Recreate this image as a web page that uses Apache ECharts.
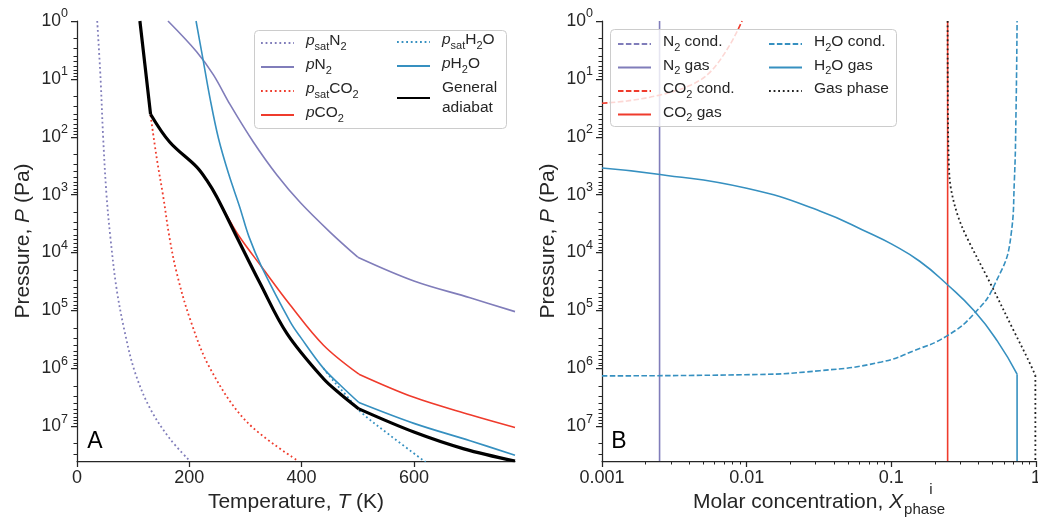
<!DOCTYPE html>
<html><head><meta charset="utf-8">
<script src="https://cdn.jsdelivr.net/npm/echarts@6/dist/echarts.min.js"></script>
<style>html,body{margin:0;padding:0;background:#fff}#c{width:1038px;height:525px}</style>
</head><body><div id="c"></div>
<script>
// ---------- Panel A data: temperature (K) and log10 pressure (Pa) ----------
const psatN2T    = [36, 42, 46.5, 52.5, 59.6, 70.4, 85, 103, 130, 165, 201];
const psatN2LogP = [0, 1, 2, 3, 3.75, 4.62, 5.37, 6.06, 6.69, 7.21, 7.6];
const pN2T       = [162, 213, 243, 273, 314, 356, 398, 451, 500, 600, 700, 780];
const pN2LogP    = [0, 0.53, 0.93, 1.45, 2.09, 2.66, 3.14, 3.65, 4.08, 4.49, 4.78, 5.02];
const psatCO2T    = [131, 142, 154, 164, 177, 201, 237, 302, 394];
const psatCO2LogP = [1.63, 2.37, 3.06, 3.70, 4.33, 5.14, 6.0, 6.92, 7.6];
const pCO2T      = [131, 165, 213, 231, 249, 268, 287.5, 329, 380, 439, 502, 600, 700, 780];
const pCO2LogP   = [1.61, 2.09, 2.52, 2.75, 3.04, 3.38, 3.70, 4.25, 4.91, 5.60, 6.10, 6.50, 6.80, 7.02];
const psatH2OT    = [439, 457, 480, 505, 558, 621];
const psatH2OLogP = [6.0, 6.22, 6.47, 6.75, 7.16, 7.62];
const pH2OT      = [212, 224, 237, 252, 270, 290, 306, 329, 380, 398, 439, 470, 502, 600, 700, 780];
const pH2OLogP   = [0, 0.64, 1.34, 2.03, 2.64, 3.22, 3.72, 4.25, 5.20, 5.46, 6.0, 6.30, 6.59, 6.95, 7.25, 7.50];
const adiabatT    = [112, 121, 131, 165, 213, 231, 249, 283, 326, 374, 439, 470, 502, 600, 689, 780];
const adiabatLogP = [0, 0.76, 1.61, 2.09, 2.52, 2.75, 3.04, 3.70, 4.53, 5.40, 6.18, 6.45, 6.70, 7.10, 7.39, 7.60];

// ---------- Panel B data: molar concentration and log10 pressure (Pa) ----------
const n2CondX = [];
const n2CondLogP = [];
const n2GasX = [0.0025, 0.0025];
const n2GasLogP = [0, 7.6];
const co2CondX = [0.001, 0.0015, 0.0025, 0.004, 0.0055, 0.0075, 0.0093];
const co2CondLogP = [1.42, 1.38, 1.28, 1.12, 0.9, 0.45, 0];
const co2GasX = [0.245, 0.245];
const co2GasLogP = [0, 7.6];
const h2oCondX = [0.001, 0.0097, 0.032, 0.0853, 0.145, 0.2456, 0.375, 0.516, 0.672, 0.708, 0.727, 0.74];
const h2oCondLogP = [6.13, 6.11, 6.04, 5.89, 5.69, 5.43, 5.05, 4.56, 3.70, 2.78, 1.62, 0];
const h2oGasX = [0.001, 0.00252, 0.01, 0.032, 0.0728, 0.1, 0.157, 0.2456, 0.375, 0.541, 0.74, 0.74];
const h2oGasLogP = [2.54, 2.65, 2.89, 3.28, 3.68, 3.85, 4.15, 4.56, 5.01, 5.53, 6.10, 7.6];
const gasPhaseX = [0.245, 0.246, 0.25, 0.258, 0.287, 0.33, 0.49, 0.708, 0.875, 0.99, 0.99];
const gasPhaseLogP = [0, 1.5, 2.5, 2.89, 3.35, 3.72, 4.56, 5.37, 5.83, 6.12, 7.6];

// ---------- ticks ----------
const tempTicks = [0, 200, 400, 600];
const molarTicks = [0.001, 0.01, 0.1, 1];
const pressureTicks = [1, 10, 100, 1000, 1e4, 1e5, 1e6, 1e7];
const P_MAX = 3.98e7;

const FONT = 'Liberation Sans, Arial, Helvetica, sans-serif';
const INK = '#262626';
const PURPLE = '#807dba', RED = '#ef3b2c', BLUE = '#3690c0', BLACK = '#000000';

function minorLog(lo, hi) {
  const out = [];
  for (let d = lo; d < hi * 0.999; d *= 10) for (let k = 2; k <= 9; k++) out.push(k * d);
  return out;
}
const pressureMinor = minorLog(1, 1e8).filter(v => v < P_MAX);
const molarMinor = minorLog(0.001, 1);

function pts(xs, ls, a, b) {
  const out = [];
  for (let i = (a || 0); i < (b === undefined ? xs.length : b); i++) out.push([xs[i], Math.pow(10, ls[i])]);
  return out;
}
// one drawn piece of a curve: indices a..b-1 of the arrays (pieces meet at shared kink points)
function line(name, xs, ls, color, width, type, xi, yi, z, a, b, smooth) {
  return {
    name, type: 'line', xAxisIndex: xi, yAxisIndex: yi, data: pts(xs, ls, a, b),
    symbol: 'none', showSymbol: false, smooth: smooth || false, z: z || 2, clip: true,
    lineStyle: { color, width, type: type || 'solid', cap: 'butt' },
    itemStyle: { color, opacity: 0 }, emphasis: { disabled: true }
  };
}
const DOT = [1.8, 2.8], DASH = [5.5, 2.4];
const SM = 0.35, SM2 = 0.5;

const supLabel = v => '{b|10}{s|' + Math.round(Math.log10(v)) + '}';
const tickRich = {
  b: { fontSize: 17.5, lineHeight: 18, fontFamily: FONT, color: INK, verticalAlign: 'bottom' },
  s: { fontSize: 12.5, lineHeight: 12, fontFamily: FONT, color: INK, padding: [0, 0, 14, 0] }
};

function majorAxis(kind, grid, type, min, max, ticks, fmt, extra) {
  const isY = kind === 'y';
  return Object.assign({
    gridIndex: grid, type, min, max, position: isY ? 'left' : 'bottom',
    logBase: 10,
    axisLine: { show: true, lineStyle: { color: INK, width: 1.25 } },
    axisTick: { show: true, inside: false, length: 6, customValues: ticks, lineStyle: { color: INK, width: 1.25 } },
    axisLabel: { show: true, customValues: ticks, formatter: fmt, margin: isY ? 9 : 8, color: INK,
      fontSize: 18, fontFamily: FONT, rich: tickRich },
    splitLine: { show: false }, minorTick: { show: false }, minorSplitLine: { show: false }
  }, extra || {});
}
function minorAxis(kind, grid, min, max, ticks, extra) {
  const isY = kind === 'y';
  return Object.assign({
    gridIndex: grid, type: 'log', logBase: 10, min, max, position: isY ? 'left' : 'bottom',
    axisLine: { show: false },
    axisTick: { show: true, inside: false, length: 3.5, customValues: ticks, lineStyle: { color: INK, width: 1 } },
    axisLabel: { show: false }, splitLine: { show: false }
  }, extra || {});
}
const nameRich = {
  n: { fontSize: 21, lineHeight: 24, fontFamily: FONT, color: INK, verticalAlign: 'top' },
  i: { fontSize: 21, lineHeight: 24, fontFamily: FONT, color: INK, fontStyle: 'italic', verticalAlign: 'top' },
  sub: { fontSize: 15, lineHeight: 15, fontFamily: FONT, color: INK, padding: [10, 0, 0, 1], verticalAlign: 'top' }
};

const legendRich = {
  g: { width: 7, fontSize: 12 },
  i: { fontSize: 15.5, lineHeight: 20, fontFamily: FONT, color: INK, fontStyle: 'italic', verticalAlign: 'top' },
  n: { fontSize: 15.5, lineHeight: 20, fontFamily: FONT, color: INK, verticalAlign: 'top' },
  s: { fontSize: 11, lineHeight: 12, fontFamily: FONT, color: INK, padding: [8, 0, 0, 0], verticalAlign: 'top' },
  m: { fontSize: 15.5, lineHeight: 20, fontFamily: FONT, color: INK }
};
const legendText = {
  'psatN2': '{g| }{i|p}{s|sat}{n|N}{s|2}',
  'pN2': '{g| }{i|p}{n|N}{s|2}',
  'psatCO2': '{g| }{i|p}{s|sat}{n|CO}{s|2}',
  'pCO2': '{g| }{i|p}{n|CO}{s|2}',
  'psatH2O': '{g| }{i|p}{s|sat}{n|H}{s|2}{n|O}',
  'pH2O': '{g| }{i|p}{n|H}{s|2}{n|O}',
  'General adiabat': '{g| }{m|General}\n{g| }{m|adiabat}',
  'N2 cond.': '{g| }{n|N}{s|2}{n| cond.}',
  'N2 gas': '{g| }{n|N}{s|2}{n| gas}',
  'CO2 cond.': '{g| }{n|CO}{s|2}{n| cond.}',
  'CO2 gas': '{g| }{n|CO}{s|2}{n| gas}',
  'H2O cond.': '{g| }{n|H}{s|2}{n|O cond.}',
  'H2O gas': '{g| }{n|H}{s|2}{n|O gas}',
  'Gas phase': '{g| }{n|Gas phase}'
};
function legend(data, left, top, gap) {
  return {
    data, left, top, orient: 'vertical', padding: 0, itemGap: gap, itemWidth: 33, itemHeight: 14,
    selectedMode: false, z: 60, formatter: n => legendText[n],
    itemStyle: { opacity: 0 },
    textStyle: { fontFamily: FONT, fontSize: 15.5, color: INK, rich: legendRich }
  };
}

const option = {
  animation: false,
  backgroundColor: '#ffffff',
  grid: [
    { left: 77, top: 21, width: 438, height: 440, outerBoundsMode: 'none', containLabel: false },
    { left: 602, top: 21, width: 434, height: 440, outerBoundsMode: 'none', containLabel: false }
  ],
  xAxis: [
    majorAxis('x', 0, 'value', 0, 780, tempTicks, v => String(v), {
      name: '{n|Temperature, }{i|T}{n| (K)}', nameLocation: 'middle', nameGap: 28,
      nameTextStyle: { fontFamily: FONT, fontSize: 21, color: INK, rich: nameRich } }),
    majorAxis('x', 1, 'log', 0.001, 1, molarTicks, v => (v >= 1 ? '1' : String(v)), {
      name: '{n|Molar concentration, }{i|X}{sub|phase}', nameLocation: 'middle', nameGap: 29,
      nameTextStyle: { fontFamily: FONT, fontSize: 21, color: INK, rich: nameRich } }),
    minorAxis('x', 1, 0.001, 1, molarMinor)
  ],
  yAxis: [
    majorAxis('y', 0, 'log', 1, P_MAX, pressureTicks, supLabel, {
      inverse: true, name: '{n|Pressure, }{i|P}{n| (Pa)}', nameLocation: 'middle', nameGap: 40,
      nameTextStyle: { fontFamily: FONT, fontSize: 21, color: INK, rich: nameRich } }),
    minorAxis('y', 0, 1, P_MAX, pressureMinor, { inverse: true }),
    majorAxis('y', 1, 'log', 1, P_MAX, pressureTicks, supLabel, {
      inverse: true, name: '{n|Pressure, }{i|P}{n| (Pa)}', nameLocation: 'middle', nameGap: 40,
      nameTextStyle: { fontFamily: FONT, fontSize: 21, color: INK, rich: nameRich } }),
    minorAxis('y', 1, 1, P_MAX, pressureMinor, { inverse: true })
  ],
  legend: [
    legend(['psatN2', 'pN2', 'psatCO2', 'pCO2'], 260, 33, 5),
    legend(['psatH2O', 'pH2O', 'General adiabat'], 396, 32, 5),
    legend(['N2 cond.', 'N2 gas', 'CO2 cond.', 'CO2 gas'], 617, 34, 4.5),
    legend(['H2O cond.', 'H2O gas', 'Gas phase'], 768, 34, 4.5)
  ],
  graphic: [
    { type: 'rect', z: 50, silent: true, shape: { x: 254.5, y: 30.5, width: 252, height: 98, r: 4 },
      style: { fill: 'rgba(255,255,255,0.8)', stroke: '#cccccc', lineWidth: 1 } },
    { type: 'rect', z: 50, silent: true, shape: { x: 610.5, y: 29.5, width: 286, height: 97, r: 4 },
      style: { fill: 'rgba(255,255,255,0.8)', stroke: '#cccccc', lineWidth: 1 } },
    { type: 'text', z: 60, silent: true, x: 95, y: 442,
      style: { text: 'A', font: '23px ' + FONT, fill: '#000', textAlign: 'center', textVerticalAlign: 'middle' } },
    { type: 'text', z: 60, silent: true, x: 619, y: 442,
      style: { text: 'B', font: '23px ' + FONT, fill: '#000', textAlign: 'center', textVerticalAlign: 'middle' } },
    { type: 'text', z: 60, silent: true, x: 931, y: 490,
      style: { text: 'i', font: '15px ' + FONT, fill: INK, textAlign: 'center', textVerticalAlign: 'middle' } }
  ],
  series: [
    line('psatN2', psatN2T, psatN2LogP, PURPLE, 1.8, DOT, 0, 0, 3, 0, undefined, SM),
    line('pN2', pN2T, pN2LogP, PURPLE, 1.6, 'solid', 0, 0, 3, 0, 9, SM),
    line('pN2', pN2T, pN2LogP, PURPLE, 1.6, 'solid', 0, 0, 3, 8, undefined, SM),
    line('psatCO2', psatCO2T, psatCO2LogP, RED, 1.8, DOT, 0, 0, 3, 0, undefined, SM),
    line('pCO2', pCO2T, pCO2LogP, RED, 1.6, 'solid', 0, 0, 3, 0, 11, SM),
    line('pCO2', pCO2T, pCO2LogP, RED, 1.6, 'solid', 0, 0, 3, 10, undefined, SM),
    line('psatH2O', psatH2OT, psatH2OLogP, BLUE, 1.8, DOT, 0, 0, 3, 0, undefined, SM),
    line('pH2O', pH2OT, pH2OLogP, BLUE, 1.6, 'solid', 0, 0, 3, 0, 13, SM),
    line('pH2O', pH2OT, pH2OLogP, BLUE, 1.6, 'solid', 0, 0, 3, 12, undefined, SM),
    line('General adiabat', adiabatT, adiabatLogP, BLACK, 3.2, 'solid', 0, 0, 4, 0, 3, false),
    line('General adiabat', adiabatT, adiabatLogP, BLACK, 3.2, 'solid', 0, 0, 4, 2, 13, SM),
    line('General adiabat', adiabatT, adiabatLogP, BLACK, 3.2, 'solid', 0, 0, 4, 12, undefined, SM),
    line('N2 cond.', n2CondX, n2CondLogP, PURPLE, 1.6, DASH, 1, 2, 3),
    line('N2 gas', n2GasX, n2GasLogP, PURPLE, 1.6, 'solid', 1, 2, 3),
    line('CO2 cond.', co2CondX, co2CondLogP, RED, 1.6, DASH, 1, 2, 3, 0, undefined, SM),
    line('CO2 gas', co2GasX, co2GasLogP, RED, 1.6, 'solid', 1, 2, 3),
    line('H2O cond.', h2oCondX, h2oCondLogP, BLUE, 1.6, DASH, 1, 2, 3, 0, undefined, SM2),
    line('H2O gas', h2oGasX, h2oGasLogP, BLUE, 1.6, 'solid', 1, 2, 3, 0, 11, SM2),
    line('H2O gas', h2oGasX, h2oGasLogP, BLUE, 1.6, 'solid', 1, 2, 3, 10, undefined, false),
    line('Gas phase', gasPhaseX, gasPhaseLogP, '#222222', 1.8, DOT, 1, 2, 4, 0, 10, SM),
    line('Gas phase', gasPhaseX, gasPhaseLogP, '#222222', 1.8, DOT, 1, 2, 4, 9, undefined, false)
  ]
};
const chart = echarts.init(document.getElementById('c'), null, { renderer: 'canvas' });
chart.setOption(option);
</script></body></html>
